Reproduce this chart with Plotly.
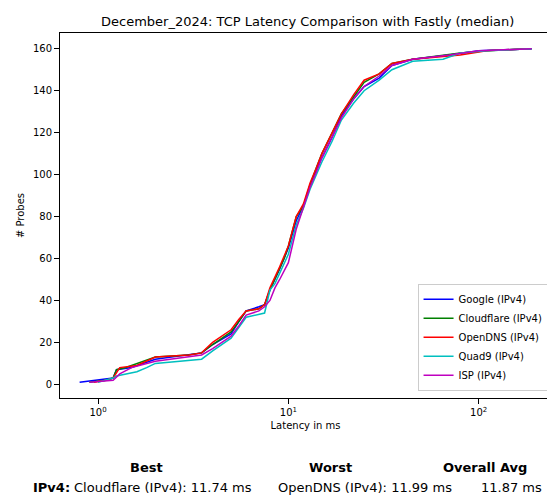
import plotly.graph_objects as go

google_x = [0.8,1.0,1.2,1.25,1.5,2,3,3.5,4,5,5.5,6,7,7.5,8,8.5,9,10,11,12,13,14,15,17,19,22,25,30,35,45,70,100,190]
google_y = [1,2,3,7,8,12,14,15,19,24,30,35,37,38,45,50,55,65,78,85,95,102,108,118,128,136,142,146,152,155,157,159,160]
cloudflare_x = [0.9,1.1,1.2,1.25,1.4,2,3,3.5,4,5,5.5,6,7,7.5,8,8.5,9,9.5,10,11,12,13,14,15,17,19,22,25,30,35,45,80,110,190]
cloudflare_y = [1,2,3,7,8,13,14,15,19,25,30,35,36,38,45,50,55,60,66,80,85,95,103,110,120,129,137,144,148,153,155,158,159,160]
opendns_x = [0.95,1.1,1.2,1.3,1.6,2,3,3.5,4,5,5.5,6,7,7.5,8,8.5,9,10,11,12,13,14,15,17,19,22,25,30,35,45,80,110,180]
opendns_y = [1,2,3,8,9,13,14,15,20,26,31,35,36,38,46,51,56,66,80,86,96,103,110,120,129,138,145,148,153,155,157,159,160]
quad9_x = [1.0,1.2,1.25,1.6,1.8,2,3.5,4,5,5.5,6,7.5,8,8.5,9,10,11,12,13,14,15,17,19,22,25,30,35,45,65,80,110,190]
quad9_y = [1,3,4,6,8,10,12,16,22,27,32,34,45,48,53,62,76,84,93,100,106,116,126,134,140,145,150,154,155,158,159,160]
isp_x = [0.9,1.2,1.3,1.5,2,3,3.5,4,5,5.5,6,7,7.5,8,8.5,9,10,11,12,13,14,15,17,19,22,25,30,35,45,70,100,190]
isp_y = [1,2,5,8,11,13,14,17,23,28,33,35,37,40,46,50,58,74,84,94,101,108,118,127,136,142,147,152,155,157,159,160]

series = [("Google (IPv4)", google_x, google_y, "#0000ff"),
          ("Cloudflare (IPv4)", cloudflare_x, cloudflare_y, "#008000"),
          ("OpenDNS (IPv4)", opendns_x, opendns_y, "#ff0000"),
          ("Quad9 (IPv4)", quad9_x, quad9_y, "#00bfbf"),
          ("ISP (IPv4)", isp_x, isp_y, "#bf00bf")]

fig = go.Figure()
for name, x, y, c in series:
    fig.add_trace(go.Scatter(x=x, y=y, mode="lines", name=name, line=dict(color=c, width=1.5)))

font = dict(family="DejaVu Sans", color="black")
ax = dict(showgrid=False, zeroline=False, showline=True, mirror=True, linecolor="black",
          ticks="outside", tickcolor="black", tickfont=dict(size=10))
L, T, B = 52, 25, 106
W, H = 555 - L - 12, 496 - T - B
fig.update_layout(
    width=555, height=496, plot_bgcolor="white", paper_bgcolor="white", font=font,
    margin=dict(l=L, r=12, t=T, b=B),
    title=dict(text="December_2024: TCP Latency Comparison with Fastly (median)", x=0.54, xanchor="center",
               y=0.972, yanchor="middle", font=dict(size=13)),
    xaxis=dict(type="log", range=[-0.2, 2.38], tickvals=[1, 10, 100], ticktext=["10<sup>0</sup>", "10<sup>1</sup>", "10<sup>2</sup>"],
               title=dict(text="Latency in ms", font=dict(size=10), standoff=4), **ax),
    yaxis=dict(range=[-6.5, 167.5], tickvals=list(range(0, 161, 20)),
               title=dict(text="# Probes", font=dict(size=10), standoff=6), **ax),
    legend=dict(x=0.995, y=0.02, xanchor="right", yanchor="bottom", bordercolor="#cccccc", borderwidth=1,
                font=dict(size=10), bgcolor="white"),
)
ann = [("<b>Best</b>", 138, 460), ("<b>Worst</b>", 322, 460), ("<b>Overall Avg</b>", 477, 460),
       ("<b>IPv4:</b>", 43, 479), ("Cloudflare (IPv4): 11.74 ms", 155, 479),
       ("OpenDNS (IPv4): 11.99 ms", 357, 479), ("11.87 ms", 503, 479)]
for t, x, y in ann:
    fig.add_annotation(text=t, x=(x - L) / W, y=(T + H - y) / H, xref="paper", yref="paper",
                       showarrow=False, xanchor="center", yanchor="middle", font=dict(size=13))
fig.write_html("out.html")
